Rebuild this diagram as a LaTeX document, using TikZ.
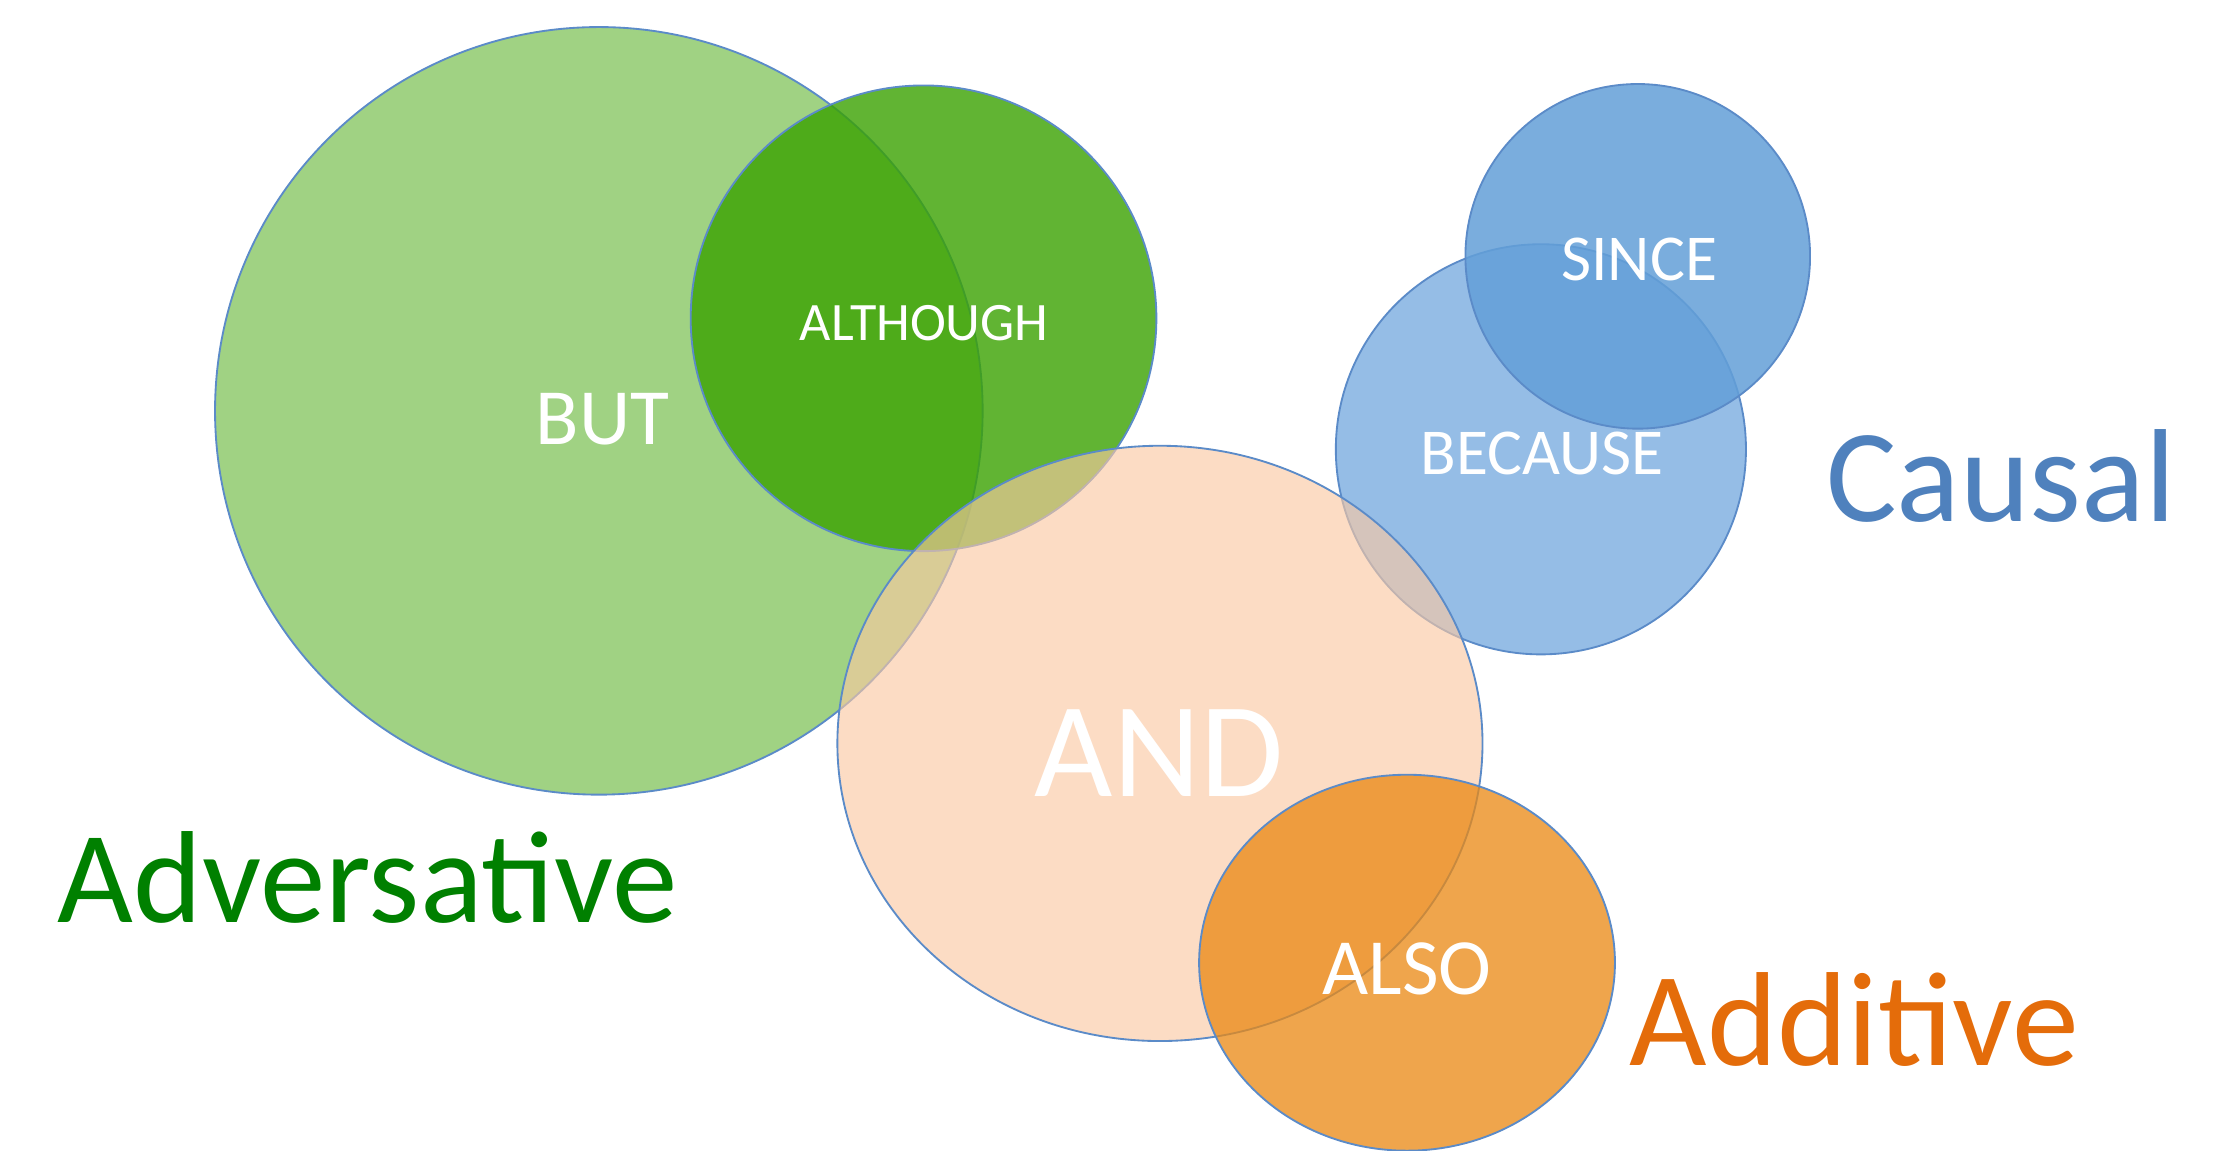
\documentclass[tikz,border=0pt]{standalone}
\usepackage{fontspec}
\setmainfont{Carlito}
\usetikzlibrary{shapes.geometric}

\definecolor{rim}{RGB}{91,139,200}
\definecolor{butfill}{RGB}{160,210,131}
\definecolor{althfill}{RGB}{58,162,0}
\definecolor{andfill}{RGB}{251,201,162}
\definecolor{alsofill}{RGB}{234,137,20}
\definecolor{becausefill}{RGB}{149,189,230}
\definecolor{sincefill}{RGB}{99,159,216}
\definecolor{advgreen}{RGB}{0,128,0}
\definecolor{causalblue}{RGB}{79,129,189}
\definecolor{addorange}{RGB}{228,108,10}

\begin{document}
\begin{tikzpicture}[x=1pt,y=-1pt,
  blob/.style={ellipse, draw=rim, line width=1.3pt, inner sep=0pt, outer sep=0pt},
  word/.style={anchor=base, inner sep=0pt, outer sep=0pt, text=white},
  heading/.style={anchor=base, inner sep=0pt, outer sep=0pt}]

\useasboundingbox (0,0) rectangle (1568,808);
\fill[white] (0,0) rectangle (1568,808);
\clip (0,0) rectangle (1568,808);

% adversative group
\node[blob, fill=butfill, minimum width=539pt, minimum height=539pt] (but) at (420.5,288.5) {};
\node[blob, fill=althfill, fill opacity=0.8, minimum width=327pt, minimum height=327pt] (although) at (648.5,223.5) {};

% causal group
\node[blob, fill=becausefill, minimum width=288pt, minimum height=288pt] (because) at (1082,315.5) {};
\node[blob, fill=sincefill, fill opacity=0.85, minimum width=242pt, minimum height=242pt] (since) at (1150,180) {};

% additive group
\node[blob, fill=andfill, fill opacity=0.63, minimum width=453pt, minimum height=418pt] (and) at (814.5,522) {};
\node[blob, fill=alsofill, fill opacity=0.76, minimum width=292pt, minimum height=264pt] (also) at (988,676) {};

% words inside the sets
\node[word, font=\fontsize{56}{56}\selectfont] (butword) at (423,312) {BUT};
\node[word, font=\fontsize{38}{38}\selectfont] (althoughword) at (649,239) {ALTHOUGH};
\node[word, font=\fontsize{46}{46}\selectfont] (sinceword) at (1151,197) {SINCE};
\node[word, font=\fontsize{46}{46}\selectfont] (becauseword) at (1083,333) {BECAUSE};
\node[word, font=\fontsize{95}{95}\selectfont] (andword) at (814,559) {AND};
\node[word, font=\fontsize{56}{56}\selectfont] (alsoword) at (988,698) {ALSO};

% category headings
\node[heading, text=advgreen, font=\fontsize{92}{92}\selectfont] (adversative) at (258,648) {Adversative};
\node[heading, text=causalblue, font=\fontsize{93}{93}\selectfont] (causal) at (1405,366) {Causal};
\node[heading, text=addorange, font=\fontsize{94}{94}\selectfont] (additive) at (1302,748) {Additive};
\end{tikzpicture}
\end{document}
